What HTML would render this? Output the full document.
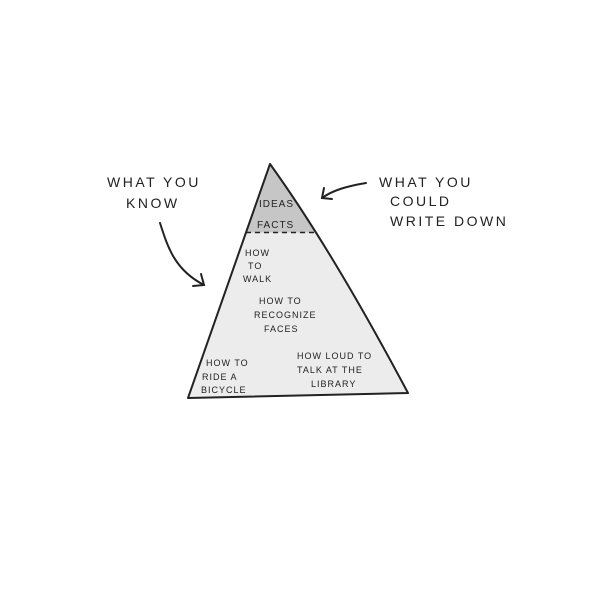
<!DOCTYPE html>
<html><head><style>body{margin:0;background:#fff}svg{display:block}</style></head><body>
<svg width="600" height="600" viewBox="0 0 600 600" xmlns="http://www.w3.org/2000/svg" font-family="Liberation Sans, sans-serif" fill="#222">
<defs><clipPath id="tri"><path d="M270,164 Q332,250 408,393 L188,398 Z"/></clipPath></defs>
<path d="M270,164 Q332,250 408,393 L188,398 Z" fill="#ececec"/>
<rect x="180" y="150" width="240" height="82.5" fill="#c6c6c6" clip-path="url(#tri)"/>
<path d="M270,164 Q332,250 408,393 L188,398 Z" fill="none" stroke="#222" stroke-width="2" stroke-linejoin="round"/>
<line x1="246" y1="232.5" x2="315" y2="232.5" stroke="#222" stroke-width="1.5" stroke-dasharray="5,4"/>
<g font-size="10" letter-spacing="1">
<text x="259" y="207">IDEAS</text>
<text x="257" y="228">FACTS</text>
<text x="245" y="256" font-size="9">HOW</text>
<text x="248" y="269" font-size="9">TO</text>
<text x="243" y="282" font-size="9">WALK</text>
<text x="259" y="304" font-size="9">HOW TO</text>
<text x="254" y="318" font-size="9">RECOGNIZE</text>
<text x="264" y="332" font-size="9">FACES</text>
<text x="206" y="366" font-size="9">HOW TO</text>
<text x="202" y="380" font-size="9">RIDE A</text>
<text x="201" y="393" font-size="9">BICYCLE</text>
<text x="297" y="359" font-size="9">HOW LOUD TO</text>
<text x="297" y="373" font-size="9">TALK AT THE</text>
<text x="311" y="387" font-size="9">LIBRARY</text>
</g>
<g font-size="14" letter-spacing="2.5">
<text x="107" y="187">WHAT YOU</text>
<text x="126" y="208">KNOW</text>
<text x="379" y="187">WHAT YOU</text>
<text x="390" y="206">COULD</text>
<text x="390" y="226">WRITE DOWN</text>
</g>
<g fill="none" stroke="#222" stroke-width="2" stroke-linecap="round">
<path d="M160,223 C168,248 175,270 204,285"/>
<path d="M193,286 L204,285 L201,274"/>
<path d="M366,183 C348,186 333,190 322,198"/>
<path d="M324,188 L322,198 L332,199"/>
</g>
</svg>
</body></html>
